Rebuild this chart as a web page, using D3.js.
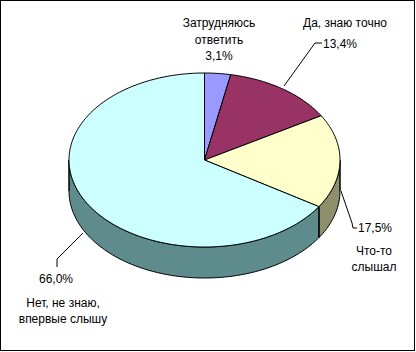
<!DOCTYPE html>
<html><head><meta charset="utf-8">
<script src="https://cdn.jsdelivr.net/npm/d3@7"></script>
<style>html,body{margin:0;padding:0;background:#fff;}svg{display:block;}</style>
</head><body>
<script>
const categories = ["Затрудняюсь ответить", "Да, знаю точно", "Что-то слышал", "Нет, не знаю, впервые слышу"];
const values = [3.1, 13.4, 17.5, 66.0];
const valueLabels = ["3,1%", "13,4%", "17,5%", "66,0%"];
const topColors = ["#9999FF", "#993366", "#FFFFCC", "#CCFFFF"];
const sideColors = ["#6B6BB3", "#6B2447", "#8F8F6E", "#5E8C8C"];

const W = 416, H = 352;
const cx = 204.5, cy = 160, rx = 135.5, ry = 87, depth = 31;

const svg = d3.select("body").append("svg").attr("width", W).attr("height", H);

svg.append("rect").attr("x", 0.5).attr("y", 0.5).attr("width", 414).attr("height", 350)
  .attr("fill", "#fff").attr("stroke", "#000");

const arcs = d3.pie().sort(null).value(d => d)(values);
const px = d3.scaleLinear().domain([-1, 1]).range([cx - rx, cx + rx]);
const py = d3.scaleLinear().domain([-1, 1]).range([cy - ry, cy + ry]);
function pt(a, dy) { return [px(Math.sin(a)), py(-Math.cos(a)) + (dy || 0)]; }
function arcPts(a0, a1, dy) {
  const n = Math.max(2, Math.ceil((a1 - a0) / 0.02));
  return d3.range(n + 1).map(i => pt(a0 + (a1 - a0) * i / n, dy));
}
const line = d3.line();

// sides
const g = svg.append("g");
arcs.forEach((d, i) => {
  const s = Math.max(d.startAngle, Math.PI / 2), e = Math.min(d.endAngle, 3 * Math.PI / 2);
  if (s < e) {
    const ptsTop = arcPts(s, e, 0);
    const ptsBot = arcPts(s, e, depth).reverse();
    g.append("path").attr("d", line(ptsTop.concat(ptsBot)) + "Z")
      .attr("fill", sideColors[i]).attr("stroke", "#000").attr("stroke-width", 1);
  }
});
// vertical edges
const edgeAngles = [Math.PI / 2, 3 * Math.PI / 2].concat(arcs.map(d => d.startAngle).filter(a => a > Math.PI / 2 && a < 3 * Math.PI / 2));
edgeAngles.forEach(a => {
  const p = pt(a, 0);
  g.append("line").attr("x1", p[0]).attr("y1", p[1]).attr("x2", p[0]).attr("y2", p[1] + depth)
    .attr("stroke", "#000");
});
// tops
arcs.forEach((d, i) => {
  const pts = [[cx, cy]].concat(arcPts(d.startAngle, d.endAngle, 0));
  g.append("path").attr("d", line(pts) + "Z").attr("fill", topColors[i])
    .attr("stroke", "#000").attr("stroke-width", 1).attr("stroke-linejoin", "round");
});

// leader lines
const leaders = [
  null,
  [[284, 86], [315, 43], [322, 43]],
  [[341, 191], [352, 223], [353, 228], [357, 228]],
  [[83, 233], [57, 259], [57, 267]]
];
leaders.forEach(l => { if (l) svg.append("path").attr("d", line(l)).attr("fill", "none").attr("stroke", "#000"); });

// labels
const font = "'Liberation Sans', Arial, sans-serif";
const labels = [
  { lines: ["Затрудняюсь", "ответить", valueLabels[0]], x: 219, y: [27, 44, 60], anchor: "middle" },
  { lines: [categories[1]], x: 303, y: [27], anchor: "start" },
  { lines: [valueLabels[1]], x: 323, y: [48], anchor: "start" },
  { lines: [valueLabels[2]], x: 358, y: [232], anchor: "start" },
  { lines: ["Что-то", "слышал"], x: 374, y: [255, 271], anchor: "middle" },
  { lines: [valueLabels[3]], x: 56, y: [283], anchor: "middle" },
  { lines: ["Нет, не знаю,", "впервые слышу"], x: 63, y: [307, 323], anchor: "middle" }
];
labels.forEach(L => {
  L.lines.forEach((t, j) => {
    svg.append("text").attr("x", L.x).attr("y", L.y[j]).attr("text-anchor", L.anchor)
      .attr("font-family", font).attr("font-size", "12px").attr("fill", "#000").text(t);
  });
});
</script>
</body></html>
